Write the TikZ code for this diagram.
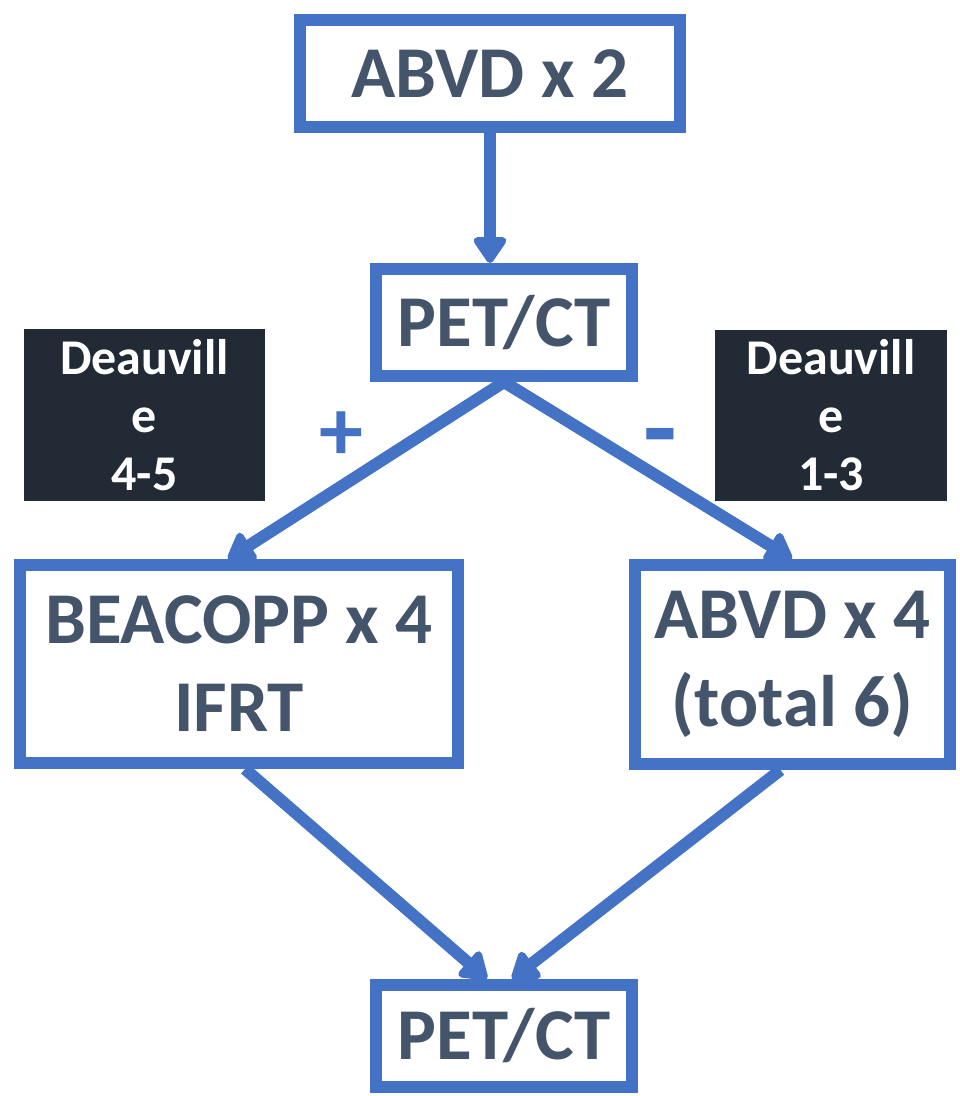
\documentclass[tikz,border=0pt]{standalone}
\usepackage{fontspec}
\setmainfont{Carlito}
\usetikzlibrary{arrows.meta}
\definecolor{boxblue}{HTML}{4472C4}
\definecolor{slate}{HTML}{44546A}
\definecolor{darkbg}{HTML}{222A35}
\begin{document}
\begin{tikzpicture}[x=1pt,y=-1pt,
  flowbox/.style={draw=boxblue, line width=12pt, fill=white, text=slate, align=center,
    font=\fontsize{73}{88}\selectfont\bfseries, inner sep=0pt},
  tagbox/.style={fill=darkbg, text=white, align=center, inner sep=0pt,
    font=\fontsize{50}{58}\selectfont\bfseries},
  signlbl/.style={text=boxblue, font=\fontsize{88}{100}\selectfont\bfseries, inner sep=0pt},
  flowarrow/.style={draw=boxblue, line width=12pt,
    -{Triangle[length=29pt,width=37pt,round]}}]
\useasboundingbox (0,0) rectangle (960,1096);
\fill[white] (0,0) rectangle (960,1096);

\node[flowbox, minimum width=380pt, minimum height=107pt] (abvd2) at (490,73.5) {ABVD x 2};
\node[flowbox, minimum width=256pt, minimum height=107pt] (pet1) at (504,322.5) {PET/CT};
\node[flowbox, minimum width=438pt, minimum height=198pt] (beacopp) at (239,664) {BEACOPP x 4\\IFRT};
\node[flowbox, minimum width=315pt, minimum height=199pt] (abvd4) at (792.5,664.5) {ABVD x 4\\(total 6)};
\node[flowbox, minimum width=256pt, minimum height=102pt] (pet2) at (504,1036) {PET/CT};

\node[tagbox, minimum width=241pt, minimum height=172pt] (tagl) at (144.5,415) {Deauvill\\e\\4-5};
\node[tagbox, minimum width=232pt, minimum height=171pt] (tagr) at (831,415.5) {Deauvill\\e\\1-3};

\node[signlbl] (plus) at (341,436) {+};
\node[signlbl, font=\fontsize{110}{120}\selectfont\bfseries] (minus) at (660,447) {-};

\draw[flowarrow] (abvd2.south) -- ([xshift=-14pt]pet1.north);
\draw[flowarrow] (pet1.south) -- ([xshift=-11pt]beacopp.north);
\draw[flowarrow] (pet1.south) -- ([xshift=-0.5pt]abvd4.north);
\draw[flowarrow] ([xshift=6pt]beacopp.south) -- ([xshift=-17pt]pet2.north);
\draw[flowarrow] ([xshift=-12pt]abvd4.south) -- ([xshift=8pt]pet2.north);
\end{tikzpicture}
\end{document}
